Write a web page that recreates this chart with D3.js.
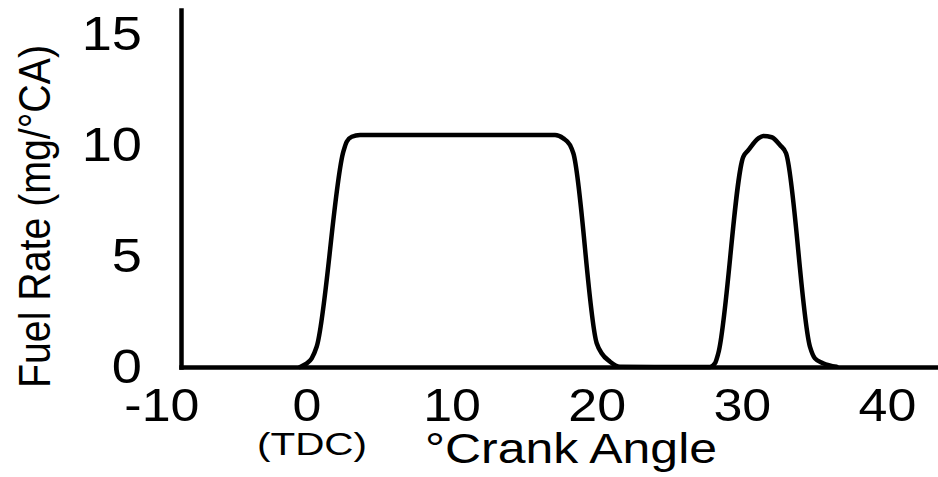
<!DOCTYPE html>
<html>
<head>
<meta charset="utf-8">
<script src="https://cdn.jsdelivr.net/npm/d3@7"></script>
<style>
  html, body { margin: 0; padding: 0; background: #fff; }
  svg { display: block; }
  text { font-family: "Liberation Sans", Arial, Helvetica, sans-serif; fill: #000; }
</style>
</head>
<body>
<svg id="chart" width="938" height="477"></svg>
<script>
// Data
const crankAngle = [-0.45, -0.03, 0.36, 0.70, 2.54, 2.77, 3.12, 3.69, 17.13, 17.70, 18.16, 18.39, 20.0, 20.34, 20.92, 21.6,
                    27.8, 28.15, 28.38, 30.1, 30.45, 31.14, 31.48, 32.06, 32.63, 33.05, 34.7, 35.04, 35.6, 36.54];
const fuelRate   = [0, 0.14, 0.39, 0.91, 9.70, 10.15, 10.37, 10.45, 10.45, 10.30, 10.0, 9.63, 1.07, 0.62, 0.24, 0.01,
                    0, 0.17, 0.62, 9.47, 9.77, 10.30, 10.41, 10.35, 10.0, 9.63, 0.91, 0.39, 0.17, 0.01];
const xTicks = [-10, 0, 10, 20, 30, 40];
const yTicks = [0, 5, 10, 15];
const xTitle = "°Crank Angle";
const xSubLabel = "(TDC)";
const yTitle = "Fuel Rate (mg/°CA)";

const svg = d3.select("#chart");
const x0 = 181, x1 = 938, yBase = 367, yTop = 10;
const x = d3.scaleLinear().domain([(x0 - 306.5) / 14.51, (x1 - 306.5) / 14.51]).range([x0, x1]);
const y = d3.scaleLinear().domain([0, (yBase - yTop) / 22.2]).range([yBase, yTop]);
const sx = 1.13;

// X axis
const gx = svg.append("g").attr("transform", `translate(0,${yBase})`)
  .call(d3.axisBottom(x).tickValues(xTicks).tickSize(0).tickSizeOuter(0).tickFormat(d3.format("d")));
gx.select(".domain").attr("stroke", "#000").attr("stroke-width", 4.5).attr("stroke-linecap", "square");
gx.selectAll(".tick text")
  .attr("y", 54).attr("dy", 0)
  .attr("font-size", 46)
  .attr("transform", `scale(${sx},1)`)
  .attr("x", 0)
  .text(d => d < 0 ? "-" + Math.abs(d) : d);

// Y axis
const gy = svg.append("g").attr("transform", `translate(${x0},0)`)
  .call(d3.axisLeft(y).tickValues(yTicks).tickSize(0).tickSizeOuter(0).tickFormat(d3.format("d")));
gy.select(".domain").attr("stroke", "#000").attr("stroke-width", 4.5).attr("stroke-linecap", "square");
gy.selectAll(".tick text")
  .attr("x", -39 / sx).attr("dy", "0.32em")
  .attr("font-size", 48)
  .attr("transform", `scale(${sx},1)`);
svg.selectAll(".tick line").remove();

// Fuel rate curve
const pts = crankAngle.map((c, i) => [c, fuelRate[i]]);
const line = d3.line().x(d => x(d[0])).y(d => y(d[1])).curve(d3.curveMonotoneX);
svg.append("path").datum(pts)
  .attr("d", line)
  .attr("fill", "none")
  .attr("stroke", "#000")
  .attr("stroke-width", 4.5)
  .attr("stroke-linejoin", "round")
  .attr("stroke-linecap", "round");

// Axis titles
svg.append("text").attr("x", 425).attr("y", 463)
  .attr("font-size", 42).attr("textLength", 292).attr("lengthAdjust", "spacingAndGlyphs")
  .text(xTitle);
svg.append("text").attr("x", 257).attr("y", 455)
  .attr("font-size", 32).attr("textLength", 110).attr("lengthAdjust", "spacingAndGlyphs")
  .text(xSubLabel);
svg.append("text")
  .attr("transform", `translate(50,216.5) scale(${sx},1) rotate(-90)`)
  .attr("text-anchor", "middle")
  .attr("font-size", 40)
  .attr("textLength", 343).attr("lengthAdjust", "spacingAndGlyphs")
  .text(yTitle);
</script>
</body>
</html>
